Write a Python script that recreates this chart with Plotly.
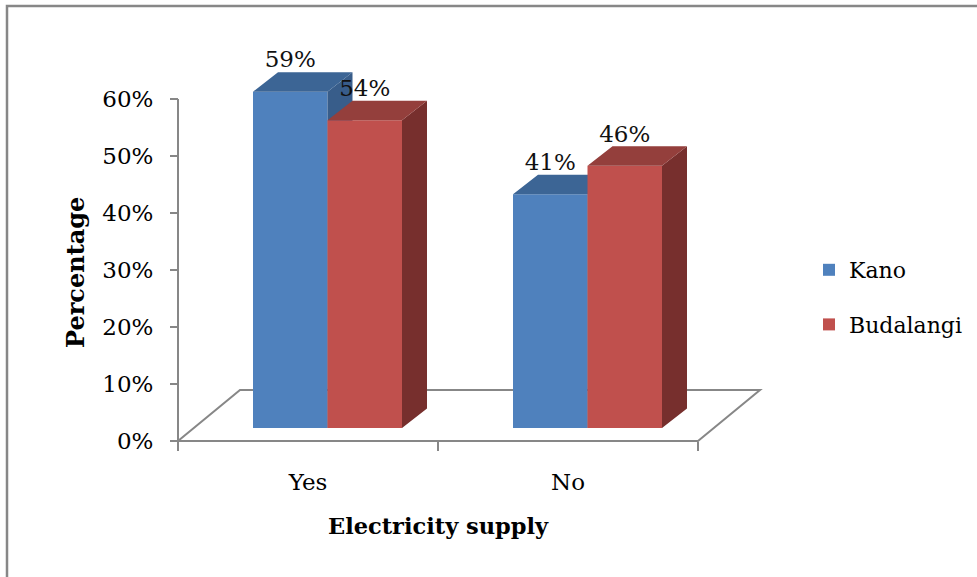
import plotly.graph_objects as go

# ---------------- data ----------------
categories = ["Yes", "No"]
series_names = ["Kano", "Budalangi"]
kano = [59, 41]
budalangi = [54, 46]
y_ticks = [0, 10, 20, 30, 40, 50, 60]
x_title = "Electricity supply"
y_title = "Percentage"

# ---------------- style / geometry ----------------
W, H = 977, 577
ML, MR, MT, MB = 152, 7, 42, 119
X0_PX, Y0_PX = 178, 441          # pixel position of data origin (front-left floor corner)
PX_PER_CAT, PX_PER_PCT = 260.0, 5.7
plot_w = W - ML - MR
plot_h = H - MT - MB
x_range = [(ML - X0_PX) / PX_PER_CAT, (W - MR - X0_PX) / PX_PER_CAT]
y_range = [(Y0_PX - (H - MB)) / PX_PER_PCT, (Y0_PX - MT) / PX_PER_PCT]

FLOOR_DX, FLOOR_DY = 62 / PX_PER_CAT, 51 / PX_PER_PCT
BAR_W = 74.5 / PX_PER_CAT
BAR_XSHIFT = 0.075
BAR_YSHIFT = 13 / PX_PER_PCT
BAR_DX, BAR_DY = 25 / PX_PER_CAT, 19.5 / PX_PER_PCT
LABEL_PAD = 30 / PX_PER_PCT

GRAY = "#878787"
FONT = "DejaVu Serif"
colors = {
    "Kano": dict(front="#4F81BD", top="#3C6595", side="#385D8A"),
    "Budalangi": dict(front="#C0504D", top="#943F3C", side="#772F2D"),
}


def px_x(px):
    return (px - ML) / plot_w


def px_y(py):
    return (H - MB - py) / plot_h


def faces(xs_left, values):
    tx, ty, sx, sy = [], [], [], []
    for x0, v in zip(xs_left, values):
        x1 = x0 + BAR_W
        t = BAR_YSHIFT + v
        tx += [x0, x1, x1 + BAR_DX, x0 + BAR_DX, x0, None]
        ty += [t, t, t + BAR_DY, t + BAR_DY, t, None]
        sx += [x1, x1, x1 + BAR_DX, x1 + BAR_DX, x1, None]
        sy += [BAR_YSHIFT, t, t + BAR_DY, BAR_YSHIFT + BAR_DY, BAR_YSHIFT, None]
    return tx, ty, sx, sy


fig = go.Figure()
n = len(categories)
all_series = [("Kano", kano, -1, "x", "y"), ("Budalangi", budalangi, 0, "x2", "y2")]
for name, vals, k, xa, ya in all_series:
    c = colors[name]
    lefts = [i + 0.5 + BAR_XSHIFT + k * BAR_W for i in range(n)]
    centers = [l + BAR_W / 2 for l in lefts]
    fig.add_trace(go.Bar(
        x=centers, y=vals, base=[BAR_YSHIFT] * n, width=BAR_W,
        marker=dict(color=c["front"], line=dict(width=0)),
        name=name, legendgroup=name, xaxis=xa, yaxis=ya, hoverinfo="skip"))
    tx, ty, sx, sy = faces(lefts, vals)
    fig.add_trace(go.Scatter(x=sx, y=sy, fill="toself", fillcolor=c["side"], mode="lines",
                             line=dict(width=0, color=c["side"]), showlegend=False,
                             hoverinfo="skip", xaxis=xa, yaxis=ya))
    fig.add_trace(go.Scatter(x=tx, y=ty, fill="toself", fillcolor=c["top"], mode="lines",
                             line=dict(width=0, color=c["top"]), showlegend=False,
                             hoverinfo="skip", xaxis=xa, yaxis=ya))
    fig.add_trace(go.Scatter(
        x=centers, y=[BAR_YSHIFT + v + LABEL_PAD for v in vals],
        text=[f"{v}%" for v in vals], mode="text", textposition="middle center",
        textfont=dict(family=FONT, size=23, color="#111111"),
        showlegend=False, hoverinfo="skip", cliponaxis=False, xaxis=xa, yaxis=ya))

# floor, y axis line, outer frame
floor_path = (f"M0,0 L{n},0 L{n + FLOOR_DX},{FLOOR_DY} L{FLOOR_DX},{FLOOR_DY} Z")
shapes = [
    dict(type="path", path=floor_path, xref="x", yref="y", line=dict(color=GRAY, width=2),
         fillcolor="rgba(0,0,0,0)", layer="below"),
    dict(type="line", x0=0, x1=0, y0=0, y1=max(y_ticks), xref="x", yref="y",
         line=dict(color=GRAY, width=2), layer="below"),
    dict(type="rect", xref="paper", yref="paper", x0=px_x(7), x1=px_x(1000),
         y0=px_y(600), y1=px_y(6), line=dict(color=GRAY, width=2.5),
         fillcolor="rgba(0,0,0,0)", layer="below"),
]

annotations = [
    dict(text=x_title, x=n / 2, xref="x", y=px_y(526), yref="paper",
         xanchor="center", yanchor="middle", showarrow=False,
         font=dict(family=FONT, size=22.5, weight="bold", color="#000000")),
    dict(text=y_title, x=px_x(75), xref="paper", y=px_y(273), yref="paper",
         xanchor="center", yanchor="middle", showarrow=False, textangle=-90,
         font=dict(family=FONT, size=24, weight="bold", color="#000000")),
]

axis_common = dict(showgrid=False, zeroline=False, showline=False)
fig.update_layout(
    template="none",
    width=W, height=H,
    margin=dict(l=ML, r=MR, t=MT, b=MB, autoexpand=False),
    paper_bgcolor="white", plot_bgcolor="white",
    font=dict(family=FONT, color="#000000"),
    shapes=shapes,
    annotations=annotations,
    showlegend=True,
    legend=dict(x=px_x(809), y=px_y(249), xanchor="left", yanchor="top",
                font=dict(family=FONT, size=22, color="#000000"),
                traceorder="grouped", tracegroupgap=23, bgcolor="rgba(0,0,0,0)"),
    xaxis=dict(range=x_range, domain=[0, 1], anchor="free", position=px_y(Y0_PX),
               tickvals=list(range(n + 1)), showticklabels=False, ticks="outside",
               ticklen=9, tickwidth=2, tickcolor=GRAY, automargin=False, **axis_common),
    xaxis2=dict(range=x_range, overlaying="x", anchor="free", position=px_y(Y0_PX),
                tickvals=[i + 0.5 for i in range(n)], ticktext=categories, ticks="",
                tickfont=dict(family=FONT, size=23), ticklabelstandoff=25, automargin=False,
                **axis_common),
    yaxis=dict(range=y_range, domain=[0, 1], anchor="free", position=px_x(X0_PX),
               tickvals=y_ticks, ticktext=[f"{t}%" for t in y_ticks], ticks="outside",
               ticklen=8, tickwidth=2, tickcolor=GRAY, ticklabelstandoff=12,
               tickfont=dict(family=FONT, size=23), automargin=False,
               **axis_common),
    yaxis2=dict(range=y_range, overlaying="y", visible=False),
)

fig.write_html("out.html")
